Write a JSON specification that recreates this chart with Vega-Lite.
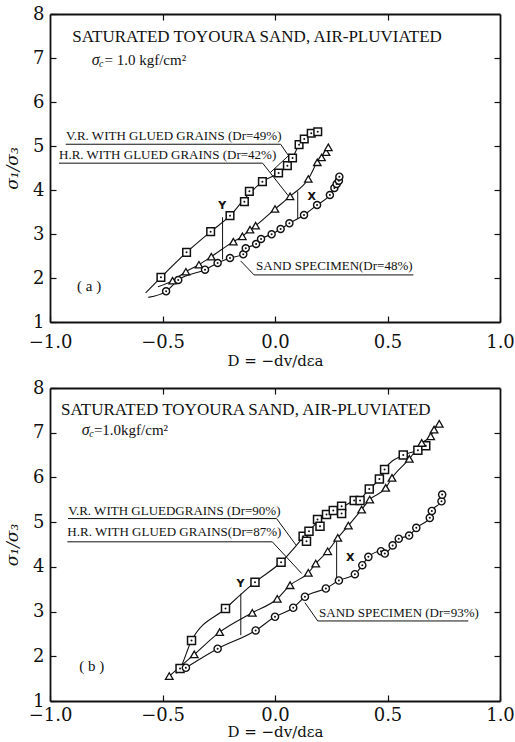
{
"$schema": "https://vega.github.io/schema/vega-lite/v6.json",
"padding": {"left": 3, "top": 5, "right": 0, "bottom": 0},
"background": "white",
"config": {"view": {"stroke": null}, "axis": {"domainColor": "#111", "domainWidth": 1.8, "tickColor": "#111", "tickWidth": 1.2, "grid": false, "labelColor": "#111", "titleColor": "#111", "labelFlush": false, "labelOverlap": false}},
"spacing": 11,
"datasets": {
"pts": [
{"panel":"a","series":"VR","x":-0.507,"y":2.015},{"panel":"a","series":"VR","x":-0.393,"y":2.583},{"panel":"a","series":"VR","x":-0.286,"y":3.053},{"panel":"a","series":"VR","x":-0.2,"y":3.417},{"panel":"a","series":"VR","x":-0.136,"y":3.735},{"panel":"a","series":"VR","x":-0.114,"y":3.97},{"panel":"a","series":"VR","x":-0.056,"y":4.19},{"panel":"a","series":"VR","x":0.016,"y":4.386},{"panel":"a","series":"VR","x":0.055,"y":4.553},{"panel":"a","series":"VR","x":0.078,"y":4.727},{"panel":"a","series":"VR","x":0.107,"y":5.03},{"panel":"a","series":"VR","x":0.13,"y":5.16},{"panel":"a","series":"VR","x":0.161,"y":5.29},{"panel":"a","series":"VR","x":0.19,"y":5.325},
{"panel":"a","series":"HR","x":-0.455,"y":1.94},{"panel":"a","series":"HR","x":-0.396,"y":2.144},{"panel":"a","series":"HR","x":-0.338,"y":2.303},{"panel":"a","series":"HR","x":-0.283,"y":2.485},{"panel":"a","series":"HR","x":-0.185,"y":2.826},{"panel":"a","series":"HR","x":-0.145,"y":2.947},{"panel":"a","series":"HR","x":-0.111,"y":3.099},{"panel":"a","series":"HR","x":-0.086,"y":3.19},{"panel":"a","series":"HR","x":0.0,"y":3.568},{"panel":"a","series":"HR","x":0.067,"y":3.856},{"panel":"a","series":"HR","x":0.148,"y":4.25},{"panel":"a","series":"HR","x":0.188,"y":4.63},{"panel":"a","series":"HR","x":0.207,"y":4.74},{"panel":"a","series":"HR","x":0.227,"y":4.86},{"panel":"a","series":"HR","x":0.237,"y":4.97},
{"panel":"a","series":"SAND","x":-0.484,"y":1.697},{"panel":"a","series":"SAND","x":-0.43,"y":1.955},{"panel":"a","series":"SAND","x":-0.311,"y":2.189},{"panel":"a","series":"SAND","x":-0.255,"y":2.341},{"panel":"a","series":"SAND","x":-0.2,"y":2.455},{"panel":"a","series":"SAND","x":-0.141,"y":2.538},{"panel":"a","series":"SAND","x":-0.13,"y":2.674},{"panel":"a","series":"SAND","x":-0.084,"y":2.773},{"panel":"a","series":"SAND","x":-0.062,"y":2.886},{"panel":"a","series":"SAND","x":-0.015,"y":2.993},{"panel":"a","series":"SAND","x":0.025,"y":3.114},{"panel":"a","series":"SAND","x":0.064,"y":3.242},{"panel":"a","series":"SAND","x":0.129,"y":3.432},{"panel":"a","series":"SAND","x":0.187,"y":3.659},{"panel":"a","series":"SAND","x":0.244,"y":3.886},{"panel":"a","series":"SAND","x":0.264,"y":4.046},{"panel":"a","series":"SAND","x":0.274,"y":4.136},{"panel":"a","series":"SAND","x":0.284,"y":4.212},{"panel":"a","series":"SAND","x":0.286,"y":4.303},
{"panel":"b","series":"VR","x":-0.422,"y":1.729},{"panel":"b","series":"VR","x":-0.371,"y":2.354},{"panel":"b","series":"VR","x":-0.22,"y":3.069},{"panel":"b","series":"VR","x":-0.089,"y":3.657},{"panel":"b","series":"VR","x":0.027,"y":4.103},{"panel":"b","series":"VR","x":0.125,"y":4.685},{"panel":"b","series":"VR","x":0.14,"y":4.573},{"panel":"b","series":"VR","x":0.151,"y":4.796},{"panel":"b","series":"VR","x":0.189,"y":5.058},{"panel":"b","series":"VR","x":0.2,"y":4.908},{"panel":"b","series":"VR","x":0.229,"y":5.169},{"panel":"b","series":"VR","x":0.259,"y":5.259},{"panel":"b","series":"VR","x":0.296,"y":5.355},{"panel":"b","series":"VR","x":0.296,"y":5.192},{"panel":"b","series":"VR","x":0.352,"y":5.482},{"panel":"b","series":"VR","x":0.378,"y":5.482},{"panel":"b","series":"VR","x":0.419,"y":5.743},{"panel":"b","series":"VR","x":0.464,"y":5.967},{"panel":"b","series":"VR","x":0.487,"y":6.18},{"panel":"b","series":"VR","x":0.57,"y":6.5},{"panel":"b","series":"VR","x":0.635,"y":6.61},{"panel":"b","series":"VR","x":0.67,"y":6.711},
{"panel":"b","series":"HR","x":-0.47,"y":1.557},{"panel":"b","series":"HR","x":-0.359,"y":2.042},{"panel":"b","series":"HR","x":-0.246,"y":2.54},{"panel":"b","series":"HR","x":-0.101,"y":2.973},{"panel":"b","series":"HR","x":0.01,"y":3.286},{"panel":"b","series":"HR","x":0.067,"y":3.59},{"panel":"b","series":"HR","x":0.148,"y":3.867},{"panel":"b","series":"HR","x":0.181,"y":4.075},{"panel":"b","series":"HR","x":0.234,"y":4.349},{"panel":"b","series":"HR","x":0.279,"y":4.649},{"panel":"b","series":"HR","x":0.326,"y":4.924},{"panel":"b","series":"HR","x":0.385,"y":5.281},{"panel":"b","series":"HR","x":0.421,"y":5.505},{"panel":"b","series":"HR","x":0.492,"y":5.766},{"panel":"b","series":"HR","x":0.52,"y":5.99},{"panel":"b","series":"HR","x":0.597,"y":6.414},{"panel":"b","series":"HR","x":0.652,"y":6.771},{"panel":"b","series":"HR","x":0.692,"y":6.92},{"panel":"b","series":"HR","x":0.707,"y":7.068},{"panel":"b","series":"HR","x":0.73,"y":7.2},
{"panel":"b","series":"SAND","x":-0.396,"y":1.744},{"panel":"b","series":"SAND","x":-0.255,"y":2.169},{"panel":"b","series":"SAND","x":-0.086,"y":2.578},{"panel":"b","series":"SAND","x":0.0,"y":2.884},{"panel":"b","series":"SAND","x":0.081,"y":3.085},{"panel":"b","series":"SAND","x":0.133,"y":3.331},{"panel":"b","series":"SAND","x":0.226,"y":3.516},{"panel":"b","series":"SAND","x":0.284,"y":3.695},{"panel":"b","series":"SAND","x":0.355,"y":3.836},{"panel":"b","series":"SAND","x":0.388,"y":4.037},{"panel":"b","series":"SAND","x":0.415,"y":4.224},{"panel":"b","series":"SAND","x":0.471,"y":4.349},{"panel":"b","series":"SAND","x":0.488,"y":4.298},{"panel":"b","series":"SAND","x":0.523,"y":4.48},{"panel":"b","series":"SAND","x":0.55,"y":4.63},{"panel":"b","series":"SAND","x":0.596,"y":4.7},{"panel":"b","series":"SAND","x":0.628,"y":4.872},{"panel":"b","series":"SAND","x":0.688,"y":5.096},{"panel":"b","series":"SAND","x":0.697,"y":5.25},{"panel":"b","series":"SAND","x":0.74,"y":5.467},{"panel":"b","series":"SAND","x":0.743,"y":5.616}
],
"curves": [
{"panel":"a","series":"VR","x":-0.575,"y":1.66},{"panel":"a","series":"VR","x":-0.507,"y":2.015},{"panel":"a","series":"VR","x":-0.393,"y":2.583},{"panel":"a","series":"VR","x":-0.286,"y":3.053},{"panel":"a","series":"VR","x":-0.2,"y":3.417},{"panel":"a","series":"VR","x":-0.13,"y":3.83},{"panel":"a","series":"VR","x":-0.056,"y":4.19},{"panel":"a","series":"VR","x":0.016,"y":4.386},{"panel":"a","series":"VR","x":0.055,"y":4.553},{"panel":"a","series":"VR","x":0.078,"y":4.727},{"panel":"a","series":"VR","x":0.107,"y":5.03},{"panel":"a","series":"VR","x":0.13,"y":5.16},{"panel":"a","series":"VR","x":0.161,"y":5.29},{"panel":"a","series":"VR","x":0.19,"y":5.325},
{"panel":"a","series":"HR","x":-0.52,"y":1.8},{"panel":"a","series":"HR","x":-0.455,"y":1.94},{"panel":"a","series":"HR","x":-0.396,"y":2.144},{"panel":"a","series":"HR","x":-0.338,"y":2.303},{"panel":"a","series":"HR","x":-0.283,"y":2.485},{"panel":"a","series":"HR","x":-0.185,"y":2.826},{"panel":"a","series":"HR","x":-0.145,"y":2.947},{"panel":"a","series":"HR","x":-0.111,"y":3.099},{"panel":"a","series":"HR","x":-0.086,"y":3.19},{"panel":"a","series":"HR","x":0.0,"y":3.568},{"panel":"a","series":"HR","x":0.067,"y":3.856},{"panel":"a","series":"HR","x":0.148,"y":4.25},{"panel":"a","series":"HR","x":0.188,"y":4.63},{"panel":"a","series":"HR","x":0.207,"y":4.74},{"panel":"a","series":"HR","x":0.227,"y":4.86},{"panel":"a","series":"HR","x":0.237,"y":4.97},
{"panel":"a","series":"SAND","x":-0.563,"y":1.56},{"panel":"a","series":"SAND","x":-0.484,"y":1.697},{"panel":"a","series":"SAND","x":-0.43,"y":1.955},{"panel":"a","series":"SAND","x":-0.311,"y":2.189},{"panel":"a","series":"SAND","x":-0.255,"y":2.341},{"panel":"a","series":"SAND","x":-0.2,"y":2.455},{"panel":"a","series":"SAND","x":-0.141,"y":2.538},{"panel":"a","series":"SAND","x":-0.13,"y":2.674},{"panel":"a","series":"SAND","x":-0.084,"y":2.773},{"panel":"a","series":"SAND","x":-0.062,"y":2.886},{"panel":"a","series":"SAND","x":-0.015,"y":2.993},{"panel":"a","series":"SAND","x":0.025,"y":3.114},{"panel":"a","series":"SAND","x":0.064,"y":3.242},{"panel":"a","series":"SAND","x":0.129,"y":3.432},{"panel":"a","series":"SAND","x":0.187,"y":3.659},{"panel":"a","series":"SAND","x":0.244,"y":3.886},{"panel":"a","series":"SAND","x":0.264,"y":4.046},{"panel":"a","series":"SAND","x":0.274,"y":4.136},{"panel":"a","series":"SAND","x":0.284,"y":4.212},{"panel":"a","series":"SAND","x":0.286,"y":4.303},
{"panel":"b","series":"VR","x":-0.44,"y":1.62},{"panel":"b","series":"VR","x":-0.422,"y":1.729},{"panel":"b","series":"VR","x":-0.371,"y":2.354},{"panel":"b","series":"VR","x":-0.22,"y":3.069},{"panel":"b","series":"VR","x":-0.089,"y":3.657},{"panel":"b","series":"VR","x":0.027,"y":4.103},{"panel":"b","series":"VR","x":0.13,"y":4.68},{"panel":"b","series":"VR","x":0.189,"y":5.0},{"panel":"b","series":"VR","x":0.229,"y":5.169},{"panel":"b","series":"VR","x":0.259,"y":5.259},{"panel":"b","series":"VR","x":0.296,"y":5.33},{"panel":"b","series":"VR","x":0.352,"y":5.482},{"panel":"b","series":"VR","x":0.378,"y":5.52},{"panel":"b","series":"VR","x":0.419,"y":5.743},{"panel":"b","series":"VR","x":0.464,"y":5.967},{"panel":"b","series":"VR","x":0.487,"y":6.18},{"panel":"b","series":"VR","x":0.57,"y":6.5},{"panel":"b","series":"VR","x":0.635,"y":6.61},{"panel":"b","series":"VR","x":0.67,"y":6.711},
{"panel":"b","series":"HR","x":-0.47,"y":1.557},{"panel":"b","series":"HR","x":-0.359,"y":2.042},{"panel":"b","series":"HR","x":-0.246,"y":2.54},{"panel":"b","series":"HR","x":-0.101,"y":2.973},{"panel":"b","series":"HR","x":0.01,"y":3.286},{"panel":"b","series":"HR","x":0.067,"y":3.59},{"panel":"b","series":"HR","x":0.148,"y":3.867},{"panel":"b","series":"HR","x":0.181,"y":4.075},{"panel":"b","series":"HR","x":0.234,"y":4.349},{"panel":"b","series":"HR","x":0.279,"y":4.649},{"panel":"b","series":"HR","x":0.326,"y":4.924},{"panel":"b","series":"HR","x":0.385,"y":5.281},{"panel":"b","series":"HR","x":0.421,"y":5.505},{"panel":"b","series":"HR","x":0.492,"y":5.766},{"panel":"b","series":"HR","x":0.52,"y":5.99},{"panel":"b","series":"HR","x":0.597,"y":6.414},{"panel":"b","series":"HR","x":0.652,"y":6.771},{"panel":"b","series":"HR","x":0.692,"y":6.92},{"panel":"b","series":"HR","x":0.707,"y":7.068},{"panel":"b","series":"HR","x":0.73,"y":7.2},
{"panel":"b","series":"SAND","x":-0.416,"y":1.68},{"panel":"b","series":"SAND","x":-0.396,"y":1.744},{"panel":"b","series":"SAND","x":-0.255,"y":2.169},{"panel":"b","series":"SAND","x":-0.086,"y":2.578},{"panel":"b","series":"SAND","x":0.0,"y":2.884},{"panel":"b","series":"SAND","x":0.081,"y":3.085},{"panel":"b","series":"SAND","x":0.133,"y":3.331},{"panel":"b","series":"SAND","x":0.226,"y":3.516},{"panel":"b","series":"SAND","x":0.284,"y":3.695},{"panel":"b","series":"SAND","x":0.355,"y":3.836},{"panel":"b","series":"SAND","x":0.388,"y":4.037},{"panel":"b","series":"SAND","x":0.415,"y":4.224},{"panel":"b","series":"SAND","x":0.471,"y":4.349},{"panel":"b","series":"SAND","x":0.488,"y":4.3},{"panel":"b","series":"SAND","x":0.523,"y":4.48},{"panel":"b","series":"SAND","x":0.55,"y":4.63},{"panel":"b","series":"SAND","x":0.596,"y":4.7},{"panel":"b","series":"SAND","x":0.628,"y":4.872},{"panel":"b","series":"SAND","x":0.688,"y":5.096},{"panel":"b","series":"SAND","x":0.697,"y":5.25},{"panel":"b","series":"SAND","x":0.74,"y":5.467},{"panel":"b","series":"SAND","x":0.743,"y":5.616}
],
"leaders": [
{"panel":"a","id":"vr","ord":1,"x":-0.93,"y":5.04},{"panel":"a","id":"vr","ord":2,"x":0.025,"y":5.04},{"panel":"a","id":"vr","ord":3,"x":0.06,"y":4.78},{"panel":"a","id":"vr","ord":4,"x":-0.02,"y":4.4},
{"panel":"a","id":"hr","ord":1,"x":-0.96,"y":4.61},{"panel":"a","id":"hr","ord":2,"x":-0.055,"y":4.61},{"panel":"a","id":"hr","ord":3,"x":0.059,"y":3.87},
{"panel":"a","id":"sand","ord":1,"x":0.615,"y":2.07},{"panel":"a","id":"sand","ord":2,"x":-0.093,"y":2.07},{"panel":"a","id":"sand","ord":3,"x":-0.153,"y":2.39},
{"panel":"a","id":"Y","ord":1,"x":-0.233,"y":3.38},{"panel":"a","id":"Y","ord":2,"x":-0.233,"y":2.42},
{"panel":"a","id":"X","ord":1,"x":0.101,"y":3.97},{"panel":"a","id":"X","ord":2,"x":0.101,"y":3.34},
{"panel":"b","id":"vr","ord":1,"x":-0.92,"y":5.08},{"panel":"b","id":"vr","ord":2,"x":0.007,"y":5.08},{"panel":"b","id":"vr","ord":3,"x":0.093,"y":4.49},
{"panel":"b","id":"hr","ord":1,"x":-0.923,"y":4.56},{"panel":"b","id":"hr","ord":2,"x":-0.012,"y":4.56},{"panel":"b","id":"hr","ord":3,"x":0.119,"y":3.85},
{"panel":"b","id":"sand","ord":1,"x":0.859,"y":2.79},{"panel":"b","id":"sand","ord":2,"x":0.19,"y":2.79},{"panel":"b","id":"sand","ord":3,"x":0.133,"y":3.2},
{"panel":"b","id":"Y","ord":1,"x":-0.152,"y":3.4},{"panel":"b","id":"Y","ord":2,"x":-0.152,"y":2.47},
{"panel":"b","id":"X","ord":1,"x":0.274,"y":4.65},{"panel":"b","id":"X","ord":2,"x":0.274,"y":3.68}
],
"labels": [
{"panel":"a","kind":"title","text":"SATURATED TOYOURA SAND, AIR-PLUVIATED","x":-0.901,"y":7.485},
{"panel":"a","kind":"sigma","text":"σ","x":-0.815,"y":6.955},
{"panel":"a","kind":"sub","text":"c","x":-0.782,"y":6.87},
{"panel":"a","kind":"eq","text":"= 1.0 kgf/cm²","x":-0.758,"y":6.955},
{"panel":"a","kind":"lab","text":"V.R. WITH GLUED GRAINS (Dr=49%)","x":-0.929,"y":5.235},
{"panel":"a","kind":"lab","text":"H.R. WITH GLUED GRAINS (Dr=42%)","x":-0.96,"y":4.803},
{"panel":"a","kind":"lab","text":"SAND SPECIMEN(Dr=48%)","x":-0.084,"y":2.28},
{"panel":"a","kind":"tag","text":"( a )","x":-0.88,"y":1.81},
{"panel":"a","kind":"xy","text":"Y","x":-0.252,"y":3.64},
{"panel":"a","kind":"xy","text":"X","x":0.144,"y":3.83},
{"panel":"b","kind":"title","text":"SATURATED TOYOURA SAND, AIR-PLUVIATED","x":-0.951,"y":7.5},
{"panel":"b","kind":"sigma","text":"σ","x":-0.859,"y":7.05},
{"panel":"b","kind":"sub","text":"c","x":-0.826,"y":6.965},
{"panel":"b","kind":"eq","text":"=1.0kgf/cm²","x":-0.805,"y":7.05},
{"panel":"b","kind":"lab","text":"V.R. WITH GLUEDGRAINS (Dr=90%)","x":-0.919,"y":5.26},
{"panel":"b","kind":"lab","text":"H.R. WITH GLUED GRAINS(Dr=87%)","x":-0.923,"y":4.78},
{"panel":"b","kind":"lab","text":"SAND SPECIMEN (Dr=93%)","x":0.196,"y":2.97},
{"panel":"b","kind":"tag","text":"( b )","x":-0.87,"y":1.78},
{"panel":"b","kind":"xy","text":"Y","x":-0.171,"y":3.61},
{"panel":"b","kind":"xy","text":"X","x":0.316,"y":4.2}
]
},
"vconcat": [
{
"width": 450, "height": 308,
"resolve": {"axis": {"x": "independent", "y": "independent"}},
"layer": [
{
"encoding": {
"x": {"field": "x", "type": "quantitative", "scale": {"domain": [-1, 1], "nice": false, "zero": false},
 "axis": {"orient": "bottom", "values": [-1, -0.5, 0, 0.5, 1], "format": ".1f", "tickSize": -6, "labelPadding": 17, "labelFont": "DejaVu Serif", "labelFontSize": 18, "title": "D = −dv/dεa", "titleFont": "DejaVu Serif", "titleFontSize": 15, "titleFontWeight": "normal", "titlePadding": 2}},
"y": {"field": "y", "type": "quantitative", "scale": {"domain": [1, 8], "nice": false, "zero": false},
 "axis": {"orient": "left", "values": [1, 2, 3, 4, 5, 6, 7, 8], "format": "d", "tickSize": -6, "labelPadding": 12, "labelFont": "DejaVu Serif", "labelFontSize": 18, "title": "σ₁/σ₃", "titleFont": "DejaVu Serif", "titleFontSize": 17, "titleFontStyle": "italic", "titleFontWeight": "normal", "titlePadding": 11}}
},
"layer": [
{"data": {"name": "curves"}, "transform": [{"filter": "datum.panel === 'a'"}], "mark": {"type": "line", "stroke": "#111", "strokeWidth": 1.1, "interpolate": "monotone"}, "encoding": {"detail": {"field": "series"}}},
{"data": {"name": "leaders"}, "transform": [{"filter": "datum.panel === 'a'"}], "mark": {"type": "line", "stroke": "#111", "strokeWidth": 1}, "encoding": {"detail": {"field": "id"}, "order": {"field": "ord", "type": "quantitative"}}},
{"data": {"name": "pts"}, "transform": [{"filter": "datum.panel === 'a' && datum.series === 'VR'"}], "mark": {"type": "point", "shape": "square", "filled": true, "fill": "white", "stroke": "#111", "strokeWidth": 1.5, "size": 58, "opacity": 1}},
{"data": {"name": "pts"}, "transform": [{"filter": "datum.panel === 'a' && datum.series === 'HR'"}], "mark": {"type": "point", "shape": "triangle-up", "filled": true, "fill": "white", "stroke": "#111", "strokeWidth": 1.3, "size": 55, "opacity": 1}},
{"data": {"name": "pts"}, "transform": [{"filter": "datum.panel === 'a' && datum.series === 'SAND'"}], "mark": {"type": "point", "shape": "circle", "filled": true, "fill": "white", "stroke": "#111", "strokeWidth": 1.4, "size": 50, "opacity": 1}},
{"data": {"name": "pts"}, "transform": [{"filter": "datum.panel === 'a' && datum.series !== 'HR'"}], "mark": {"type": "point", "shape": "circle", "filled": true, "color": "#111", "size": 4, "opacity": 1}},
{"data": {"name": "labels"}, "transform": [{"filter": "datum.panel === 'a' && datum.kind === 'title'"}], "mark": {"type": "text", "align": "left", "baseline": "middle", "font": "Liberation Serif", "fontSize": 17, "color": "#111"}, "encoding": {"text": {"field": "text"}}},
{"data": {"name": "labels"}, "transform": [{"filter": "datum.panel === 'a' && datum.kind === 'sigma'"}], "mark": {"type": "text", "align": "left", "baseline": "middle", "font": "Liberation Serif", "fontSize": 16, "fontStyle": "italic", "color": "#111"}, "encoding": {"text": {"field": "text"}}},
{"data": {"name": "labels"}, "transform": [{"filter": "datum.panel === 'a' && datum.kind === 'sub'"}], "mark": {"type": "text", "align": "left", "baseline": "middle", "font": "Liberation Serif", "fontSize": 10, "fontStyle": "italic", "color": "#111"}, "encoding": {"text": {"field": "text"}}},
{"data": {"name": "labels"}, "transform": [{"filter": "datum.panel === 'a' && datum.kind === 'eq'"}], "mark": {"type": "text", "align": "left", "baseline": "middle", "font": "Liberation Serif", "fontSize": 15, "color": "#111"}, "encoding": {"text": {"field": "text"}}},
{"data": {"name": "labels"}, "transform": [{"filter": "datum.panel === 'a' && datum.kind === 'lab'"}], "mark": {"type": "text", "align": "left", "baseline": "middle", "font": "Liberation Serif", "fontSize": 13, "color": "#111"}, "encoding": {"text": {"field": "text"}}},
{"data": {"name": "labels"}, "transform": [{"filter": "datum.panel === 'a' && datum.kind === 'tag'"}], "mark": {"type": "text", "align": "left", "baseline": "middle", "font": "Liberation Serif", "fontSize": 15, "color": "#111"}, "encoding": {"text": {"field": "text"}}},
{"data": {"name": "labels"}, "transform": [{"filter": "datum.panel === 'a' && datum.kind === 'xy'"}], "mark": {"type": "text", "align": "left", "baseline": "middle", "font": "DejaVu Sans", "fontSize": 11, "fontWeight": "bold", "color": "#111"}, "encoding": {"text": {"field": "text"}}}
]
},
{
"data": {"name": "curves"},
"mark": {"type": "point", "opacity": 0},
"encoding": {
"x": {"field": "x", "type": "quantitative", "scale": {"domain": [-1, 1], "nice": false, "zero": false}, "axis": {"orient": "top", "values": [-0.5, 0, 0.5], "labels": false, "title": null, "tickSize": -6}},
"y": {"field": "y", "type": "quantitative", "scale": {"domain": [1, 8], "nice": false, "zero": false}, "axis": {"orient": "right", "values": [2, 3, 4, 5, 6, 7], "labels": false, "title": null, "tickSize": -6}}
}
}
]
},
{
"width": 450, "height": 313,
"resolve": {"axis": {"x": "independent", "y": "independent"}},
"layer": [
{
"encoding": {
"x": {"field": "x", "type": "quantitative", "scale": {"domain": [-1, 1], "nice": false, "zero": false},
 "axis": {"orient": "bottom", "values": [-1, -0.5, 0, 0.5, 1], "format": ".1f", "tickSize": -6, "labelPadding": 11, "labelFont": "DejaVu Serif", "labelFontSize": 18, "title": "D = −dv/dεa", "titleFont": "DejaVu Serif", "titleFontSize": 15, "titleFontWeight": "normal", "titlePadding": 0}},
"y": {"field": "y", "type": "quantitative", "scale": {"domain": [1, 8], "nice": false, "zero": false},
 "axis": {"orient": "left", "values": [1, 2, 3, 4, 5, 6, 7, 8], "format": "d", "tickSize": -6, "labelPadding": 12, "labelFont": "DejaVu Serif", "labelFontSize": 18, "title": "σ₁/σ₃", "titleFont": "DejaVu Serif", "titleFontSize": 17, "titleFontStyle": "italic", "titleFontWeight": "normal", "titlePadding": 11}}
},
"layer": [
{"data": {"name": "curves"}, "transform": [{"filter": "datum.panel === 'b'"}], "mark": {"type": "line", "stroke": "#111", "strokeWidth": 1.1, "interpolate": "monotone"}, "encoding": {"detail": {"field": "series"}}},
{"data": {"name": "leaders"}, "transform": [{"filter": "datum.panel === 'b'"}], "mark": {"type": "line", "stroke": "#111", "strokeWidth": 1}, "encoding": {"detail": {"field": "id"}, "order": {"field": "ord", "type": "quantitative"}}},
{"data": {"name": "pts"}, "transform": [{"filter": "datum.panel === 'b' && datum.series === 'VR'"}], "mark": {"type": "point", "shape": "square", "filled": true, "fill": "white", "stroke": "#111", "strokeWidth": 1.5, "size": 64, "opacity": 1}},
{"data": {"name": "pts"}, "transform": [{"filter": "datum.panel === 'b' && datum.series === 'HR'"}], "mark": {"type": "point", "shape": "triangle-up", "filled": true, "fill": "white", "stroke": "#111", "strokeWidth": 1.3, "size": 58, "opacity": 1}},
{"data": {"name": "pts"}, "transform": [{"filter": "datum.panel === 'b' && datum.series === 'SAND'"}], "mark": {"type": "point", "shape": "circle", "filled": true, "fill": "white", "stroke": "#111", "strokeWidth": 1.4, "size": 52, "opacity": 1}},
{"data": {"name": "pts"}, "transform": [{"filter": "datum.panel === 'b' && datum.series !== 'HR'"}], "mark": {"type": "point", "shape": "circle", "filled": true, "color": "#111", "size": 4, "opacity": 1}},
{"data": {"name": "labels"}, "transform": [{"filter": "datum.panel === 'b' && datum.kind === 'title'"}], "mark": {"type": "text", "align": "left", "baseline": "middle", "font": "Liberation Serif", "fontSize": 17, "color": "#111"}, "encoding": {"text": {"field": "text"}}},
{"data": {"name": "labels"}, "transform": [{"filter": "datum.panel === 'b' && datum.kind === 'sigma'"}], "mark": {"type": "text", "align": "left", "baseline": "middle", "font": "Liberation Serif", "fontSize": 16, "fontStyle": "italic", "color": "#111"}, "encoding": {"text": {"field": "text"}}},
{"data": {"name": "labels"}, "transform": [{"filter": "datum.panel === 'b' && datum.kind === 'sub'"}], "mark": {"type": "text", "align": "left", "baseline": "middle", "font": "Liberation Serif", "fontSize": 10, "fontStyle": "italic", "color": "#111"}, "encoding": {"text": {"field": "text"}}},
{"data": {"name": "labels"}, "transform": [{"filter": "datum.panel === 'b' && datum.kind === 'eq'"}], "mark": {"type": "text", "align": "left", "baseline": "middle", "font": "Liberation Serif", "fontSize": 15, "color": "#111"}, "encoding": {"text": {"field": "text"}}},
{"data": {"name": "labels"}, "transform": [{"filter": "datum.panel === 'b' && datum.kind === 'lab'"}], "mark": {"type": "text", "align": "left", "baseline": "middle", "font": "Liberation Serif", "fontSize": 13, "color": "#111"}, "encoding": {"text": {"field": "text"}}},
{"data": {"name": "labels"}, "transform": [{"filter": "datum.panel === 'b' && datum.kind === 'tag'"}], "mark": {"type": "text", "align": "left", "baseline": "middle", "font": "Liberation Serif", "fontSize": 15, "color": "#111"}, "encoding": {"text": {"field": "text"}}},
{"data": {"name": "labels"}, "transform": [{"filter": "datum.panel === 'b' && datum.kind === 'xy'"}], "mark": {"type": "text", "align": "left", "baseline": "middle", "font": "DejaVu Sans", "fontSize": 11, "fontWeight": "bold", "color": "#111"}, "encoding": {"text": {"field": "text"}}}
]
},
{
"data": {"name": "curves"},
"mark": {"type": "point", "opacity": 0},
"encoding": {
"x": {"field": "x", "type": "quantitative", "scale": {"domain": [-1, 1], "nice": false, "zero": false}, "axis": {"orient": "top", "values": [-0.5, 0, 0.5], "labels": false, "title": null, "tickSize": -6}},
"y": {"field": "y", "type": "quantitative", "scale": {"domain": [1, 8], "nice": false, "zero": false}, "axis": {"orient": "right", "values": [2, 3, 4, 5, 6, 7], "labels": false, "title": null, "tickSize": -6}}
}
}
]
}
]
}
